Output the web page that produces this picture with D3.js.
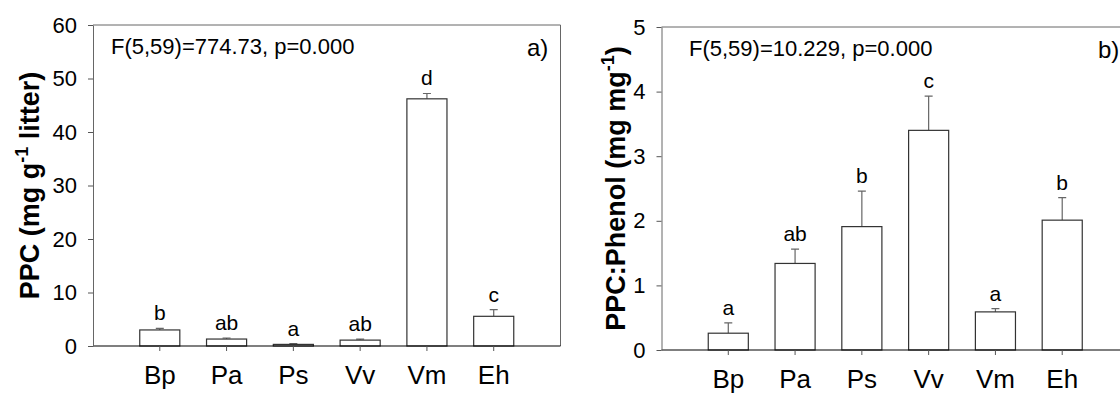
<!DOCTYPE html>
<html>
<head>
<meta charset="utf-8">
<script src="https://cdn.jsdelivr.net/npm/d3@7"></script>
<style>
  body { margin: 0; background: #fff; }
  svg text { font-family: "Liberation Sans", Arial, sans-serif; fill: #000; }
</style>
</head>
<body>
<svg id="chart" width="1120" height="394"></svg>
<script>
// species on the x axis
const species = ["Bp", "Pa", "Ps", "Vv", "Vm", "Eh"];

// panel a) PPC concentration
const ppcMean = [3.0, 1.3, 0.3, 1.1, 46.2, 5.55];
const ppcSE = [0.3, 0.2, 0.15, 0.2, 1.0, 1.25];
const ppcLetters = ["b", "ab", "a", "ab", "d", "c"];
const ppcTicks = [0, 10, 20, 30, 40, 50, 60];

// panel b) PPC:Phenol ratio
const ratioMean = [0.26, 1.34, 1.91, 3.40, 0.59, 2.01];
const ratioSE = [0.16, 0.22, 0.55, 0.53, 0.05, 0.35];
const ratioLetters = ["a", "ab", "b", "c", "a", "b"];
const ratioTicks = [0, 1, 2, 3, 4, 5];

const svg = d3.select("#chart");

function drawPanel(opt) {
  const { left, right, top, bottom, means, ses, letters, ticks, stat, statX, tag, title, titleX } = opt;
  const g = svg.append("g");
  const rows = species.map((s, i) => ({ s, m: means[i], se: ses[i], l: letters[i] }));

  const x = d3.scaleBand()
    .domain(species)
    .range([left, right])
    .paddingInner(0.4)
    .paddingOuter(0.7);

  const y = d3.scaleLinear()
    .domain([ticks[0], ticks[ticks.length - 1]])
    .range([bottom, top]);

  // frame (top + right)
  g.append("path")
    .attr("d", `M${left},${top}H${right}V${bottom}`)
    .attr("fill", "none")
    .attr("stroke", "#666")
    .attr("stroke-width", 1);

  // error bars
  const cx = d => x(d.s) + x.bandwidth() / 2;
  g.append("g").selectAll("path")
    .data(rows)
    .join("path")
    .attr("d", d => `M${cx(d)},${y(d.m)}V${y(d.m + d.se)}M${cx(d) - 4},${y(d.m + d.se)}H${cx(d) + 4}`)
    .attr("stroke", "#666")
    .attr("stroke-width", 1.2)
    .attr("fill", "none");

  // bars
  g.append("g").selectAll("rect")
    .data(rows)
    .join("rect")
    .attr("x", d => x(d.s))
    .attr("y", d => y(d.m))
    .attr("width", x.bandwidth())
    .attr("height", d => y(0) - y(d.m))
    .attr("fill", "#fff")
    .attr("stroke", "#333")
    .attr("stroke-width", 1.2);

  // significance letters
  g.append("g").selectAll("text")
    .data(rows)
    .join("text")
    .attr("x", cx)
    .attr("y", d => y(d.m + d.se) - 8)
    .attr("text-anchor", "middle")
    .style("font-size", "21px")
    .text(d => d.l);

  // axes
  const xAxis = g.append("g")
    .attr("transform", `translate(0,${bottom})`)
    .call(d3.axisBottom(x).tickSize(5).tickSizeOuter(0).tickPadding(15));
  xAxis.select(".domain").attr("stroke", "#000").attr("stroke-width", 1.2)
    .attr("d", `M${left},0H${right}`);
  xAxis.selectAll(".tick line").attr("stroke", "#555");
  xAxis.selectAll("text").style("font-size", "26px");

  const yAxis = g.append("g")
    .attr("transform", `translate(${left},0)`)
    .call(d3.axisLeft(y).tickValues(ticks).tickFormat(d3.format("d"))
      .tickSize(5).tickSizeOuter(0).tickPadding(11));
  yAxis.select(".domain").attr("stroke", "#666");
  yAxis.selectAll(".tick line").attr("stroke", "#555");
  yAxis.selectAll("text").style("font-size", "22px");

  // stat text and panel tag
  g.append("text")
    .attr("x", statX)
    .attr("y", top + 29)
    .style("font-size", "22px")
    .text(stat);

  g.append("text")
    .attr("x", tag.x)
    .attr("y", top + 31)
    .style("font-size", "24px")
    .text(tag.t);

  // y title
  const t = g.append("text")
    .attr("transform", `translate(${titleX},${(top + bottom) / 2}) rotate(-90)`)
    .attr("text-anchor", "middle")
    .style("font-size", "27px")
    .style("font-weight", "bold");
  t.append("tspan").text(title[0]);
  t.append("tspan").attr("dy", -11).style("font-size", "18px").text("-1");
  t.append("tspan").attr("dy", 11).text(title[1]);
}

drawPanel({
  left: 93, right: 560.5, top: 25, bottom: 346,
  means: ppcMean, ses: ppcSE, letters: ppcLetters, ticks: ppcTicks,
  stat: "F(5,59)=774.73, p=0.000", statX: 111,
  tag: { x: 527, t: "a)" },
  title: ["PPC (mg g", " litter)"],
  titleX: 39
});

drawPanel({
  left: 661.5, right: 1129, top: 27, bottom: 350,
  means: ratioMean, ses: ratioSE, letters: ratioLetters, ticks: ratioTicks,
  stat: "F(5,59)=10.229, p=0.000", statX: 689,
  tag: { x: 1098, t: "b)" },
  title: ["PPC:Phenol (mg mg", ")"],
  titleX: 625
});
</script>
</body>
</html>
